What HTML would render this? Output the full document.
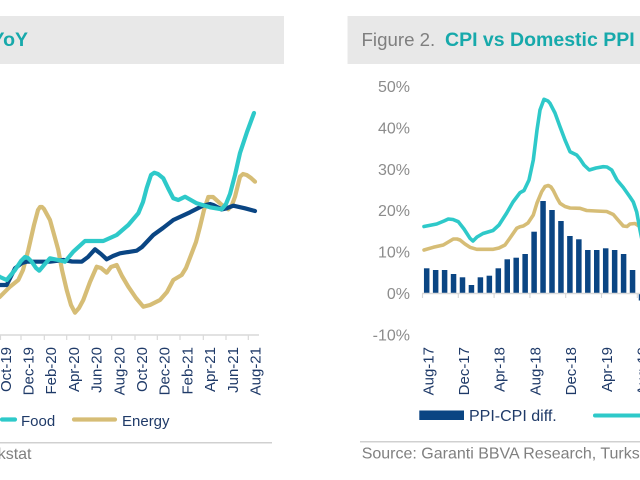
<!DOCTYPE html>
<html>
<head>
<meta charset="utf-8">
<style>
  html,body{margin:0;padding:0;background:#fff;}
  body{width:640px;height:480px;overflow:hidden;}
  svg{display:block;}
  text{font-family:"Liberation Sans",Arial,sans-serif;}
</style>
</head>
<body>
<svg width="640" height="480" viewBox="0 0 640 480" xmlns="http://www.w3.org/2000/svg">
  <rect width="640" height="480" fill="#ffffff"/>

  <!-- Title bands -->
  <rect x="0" y="16" width="284" height="48" fill="#e8e8e8"/>
  <rect x="347.5" y="16" width="292.5" height="48" fill="#e8e8e8"/>
  <text x="28" y="46" text-anchor="end" font-size="19.5" font-weight="bold" fill="#17a9ab">YoY</text>
  <text x="361.5" y="46" font-size="18.7" fill="#7f7f7f">Figure 2.</text>
  <text x="445" y="46" font-size="19.5" font-weight="bold" fill="#17a9ab">CPI vs Domestic PPI</text>

  <!-- ================= LEFT CHART ================= -->
  <line x1="0" y1="335" x2="259" y2="335" stroke="#d9d9d9" stroke-width="1.5"/>
  <g stroke="#d9d9d9" stroke-width="1.2">
    <line x1="0.5" y1="335" x2="0.5" y2="340"/>
    <line x1="21" y1="335" x2="21" y2="340"/>
    <line x1="44.3" y1="335" x2="44.3" y2="340"/>
    <line x1="66.7" y1="335" x2="66.7" y2="340"/>
    <line x1="89.3" y1="335" x2="89.3" y2="340"/>
    <line x1="111.7" y1="335" x2="111.7" y2="340"/>
    <line x1="135" y1="335" x2="135" y2="340"/>
    <line x1="157.3" y1="335" x2="157.3" y2="340"/>
    <line x1="180" y1="335" x2="180" y2="340"/>
    <line x1="203.3" y1="335" x2="203.3" y2="340"/>
    <line x1="226" y1="335" x2="226" y2="340"/>
    <line x1="248.3" y1="335" x2="248.3" y2="340"/>
  </g>
  <g font-size="15" fill="#1f3a68" text-anchor="end">
    <text x="10.8" y="347" transform="rotate(-90 10.8 347)">Oct-19</text>
    <text x="33.5" y="347" transform="rotate(-90 33.5 347)">Dec-19</text>
    <text x="56.2" y="347" transform="rotate(-90 56.2 347)">Feb-20</text>
    <text x="78.9" y="347" transform="rotate(-90 78.9 347)">Apr-20</text>
    <text x="101.6" y="347" transform="rotate(-90 101.6 347)">Jun-20</text>
    <text x="124.3" y="347" transform="rotate(-90 124.3 347)">Aug-20</text>
    <text x="147" y="347" transform="rotate(-90 147 347)">Oct-20</text>
    <text x="169.7" y="347" transform="rotate(-90 169.7 347)">Dec-20</text>
    <text x="192.4" y="347" transform="rotate(-90 192.4 347)">Feb-21</text>
    <text x="215.1" y="347" transform="rotate(-90 215.1 347)">Apr-21</text>
    <text x="237.8" y="347" transform="rotate(-90 237.8 347)">Jun-21</text>
    <text x="260.5" y="347" transform="rotate(-90 260.5 347)">Aug-21</text>
  </g>

  <g fill="none" stroke-linejoin="round" stroke-linecap="round" stroke-width="4.2">
    <polyline stroke="#d6bd76" points="-5,300 0,296.7 10,286.7 18.3,280 23,270 28.3,250 34,225 38,210 40,207 42,207 44,209 50,220 55,238 58.3,250 62,270 66.7,290 71,305 75,312.7 79,308 83.3,300 90,282 96.7,266.7 101,268 106.7,272.7 111,267 116.7,265 122,276 128.3,286.7 136,298 143.3,306.7 150,305 160,300 167,292 173.3,280 181.7,275 186,268 191.7,253.3 196,242 200,226.7 204,210 208.3,197 213,197 218.3,201.7 223,206 228.3,209.3 232,205 235,196.7 240,176.7 243,174 246.7,175 251,178 255,181.7"/>
    <polyline stroke="#0a4583" points="-5,285 0,285 6.7,285 15,268.3 22,263 26.7,261.7 50,261.7 63.3,260 72,261.5 81.7,261.7 88,257 95,249.3 101,254 106.7,259.3 113,256 120,253.3 136.7,250.7 142,247 153.3,235 163,228 173.3,220 190,212.3 203.3,205.5 210,204 213.3,205 221.7,209.5 226,208.5 233.3,205.7 245,208.3 255,211"/>
    <polyline stroke="#2ec9c9" points="-5,274 0,277 6.7,280 15,270 21,261 25,257 28,258 31.7,261.7 36,268 39.3,270.7 44,265 50,258.3 58.3,260 65,261.7 73.3,251.7 85,241 103.3,241 116.7,235 128.3,225 138.3,213.3 143,202 146.7,188 151,175 154.3,172.7 158,174 163.3,178.3 168,188 173.3,198.3 178.3,200 185,196.7 196.7,203.3 210,207.3 221.7,209.3 226,204 230,194 235,175 240,153 247,132 254,113"/>
  </g>

  <line x1="2" y1="419.5" x2="15" y2="419.5" stroke="#2ec9c9" stroke-width="4.2" stroke-linecap="round"/>
  <text x="21" y="426" font-size="15" fill="#1f3a68">Food</text>
  <line x1="74" y1="419.5" x2="115" y2="419.5" stroke="#d6bd76" stroke-width="4.2" stroke-linecap="round"/>
  <text x="122" y="426" font-size="15" fill="#1f3a68">Energy</text>

  <line x1="0" y1="442.7" x2="272" y2="442.7" stroke="#d0d0d0" stroke-width="1.5"/>
  <text x="31.5" y="459" text-anchor="end" font-size="16" fill="#808080">Source: Garanti BBVA Research, Turkstat</text>

  <!-- ================= RIGHT CHART ================= -->
  <g font-size="16" fill="#8c8c8c" text-anchor="end">
    <text x="410" y="92">50%</text>
    <text x="410" y="133.4">40%</text>
    <text x="410" y="174.8">30%</text>
    <text x="410" y="216.2">20%</text>
    <text x="410" y="257.6">10%</text>
    <text x="410" y="299">0%</text>
    <text x="410" y="340.4">-10%</text>
  </g>

  <g fill="#0a4583">
    <rect x="423.95" y="268.3" width="5.5" height="25.2"/>
    <rect x="432.9" y="270" width="5.5" height="23.5"/>
    <rect x="441.85" y="270" width="5.5" height="23.5"/>
    <rect x="450.8" y="274" width="5.5" height="19.5"/>
    <rect x="459.75" y="277.3" width="5.5" height="16.2"/>
    <rect x="468.7" y="285" width="5.5" height="8.5"/>
    <rect x="477.65" y="277.3" width="5.5" height="16.2"/>
    <rect x="486.6" y="275.7" width="5.5" height="17.8"/>
    <rect x="495.55" y="268.3" width="5.5" height="25.2"/>
    <rect x="504.5" y="259.3" width="5.5" height="34.2"/>
    <rect x="513.45" y="257.7" width="5.5" height="35.8"/>
    <rect x="522.4" y="254" width="5.5" height="39.5"/>
    <rect x="531.35" y="231.7" width="5.5" height="61.8"/>
    <rect x="540.3" y="201" width="5.5" height="92.5"/>
    <rect x="549.25" y="210" width="5.5" height="83.5"/>
    <rect x="558.2" y="221" width="5.5" height="72.5"/>
    <rect x="567.15" y="236" width="5.5" height="57.5"/>
    <rect x="576.1" y="239.3" width="5.5" height="54.2"/>
    <rect x="585.05" y="250" width="5.5" height="43.5"/>
    <rect x="594" y="250" width="5.5" height="43.5"/>
    <rect x="602.95" y="248.3" width="5.5" height="45.2"/>
    <rect x="611.9" y="250" width="5.5" height="43.5"/>
    <rect x="620.85" y="254" width="5.5" height="39.5"/>
    <rect x="629.8" y="270" width="5.5" height="23.5"/>
    <rect x="638.75" y="293.5" width="5.5" height="7"/>
  </g>

  <line x1="422" y1="293.5" x2="640" y2="293.5" stroke="#d9d9d9" stroke-width="1.5"/>
  <g stroke="#d9d9d9" stroke-width="1.2">
    <line x1="422.5" y1="293.5" x2="422.5" y2="298"/>
    <line x1="458.3" y1="293.5" x2="458.3" y2="298"/>
    <line x1="494.1" y1="293.5" x2="494.1" y2="298"/>
    <line x1="529.9" y1="293.5" x2="529.9" y2="298"/>
    <line x1="565.7" y1="293.5" x2="565.7" y2="298"/>
    <line x1="601.5" y1="293.5" x2="601.5" y2="298"/>
    <line x1="637.3" y1="293.5" x2="637.3" y2="298"/>
  </g>

  <g fill="none" stroke-linejoin="round" stroke-linecap="round" stroke-width="3.6">
    <polyline stroke="#d6bd76" points="424,250 433.3,247.3 443.3,245 450,241 453.3,239 457,239 460,240 465,244 470,247.3 476.7,249.3 493.3,249.3 499,248 505,245 510,238 516.7,228.3 520,226.7 523.3,226 528,223 533.3,215 537,203 541.7,191.7 545,186.5 548.3,185.5 551,187 553.3,190.5 557,198 560,203.3 565,206.5 570,208 580,208.3 586.7,210.5 596,211 606.7,211.5 613.3,214.5 618,220 623.3,226 627,226.5 630,224 635,223.5 640,226.7 645,230"/>
    <polyline stroke="#2ec9c9" points="424,226.5 436.7,224 444,221 448.3,219 453,219.5 458.3,221.7 464,229 470,238.3 473,241 477,237 483,233.5 493,230.5 499,225 506.7,213 513,202 520,192.7 524,190.5 529,180 533.3,160 537,130 540,110 544,99.3 548,101 550,103.3 555,113 560,126.7 565,140 570,151.7 576.7,155 580,159 584,165 589.3,170 596,168 603.3,166.7 607,167 611.7,170 617,180 623.3,187.5 630,197 633.3,202 636.7,212 640,230 643,245"/>
  </g>

  <g font-size="15" fill="#1f3a68" text-anchor="end">
    <text x="433.3" y="347" transform="rotate(-90 433.3 347)">Aug-17</text>
    <text x="469" y="347" transform="rotate(-90 469 347)">Dec-17</text>
    <text x="504.7" y="347" transform="rotate(-90 504.7 347)">Apr-18</text>
    <text x="540.4" y="347" transform="rotate(-90 540.4 347)">Aug-18</text>
    <text x="576.1" y="347" transform="rotate(-90 576.1 347)">Dec-18</text>
    <text x="611.8" y="347" transform="rotate(-90 611.8 347)">Apr-19</text>
    <text x="647.5" y="347" transform="rotate(-90 647.5 347)">Aug-19</text>
  </g>

  <rect x="419.3" y="410.5" width="44.7" height="9.5" fill="#0a4583"/>
  <text x="469" y="421" font-size="16" fill="#1f3a68">PPI-CPI diff.</text>
  <line x1="595" y1="415.5" x2="645" y2="415.5" stroke="#2ec9c9" stroke-width="4" stroke-linecap="round"/>

  <line x1="360" y1="441.7" x2="640" y2="441.7" stroke="#d0d0d0" stroke-width="1.5"/>
  <text x="361.7" y="458.5" font-size="16" fill="#808080">Source: Garanti BBVA Research, Turkstat</text>
</svg>
</body>
</html>
